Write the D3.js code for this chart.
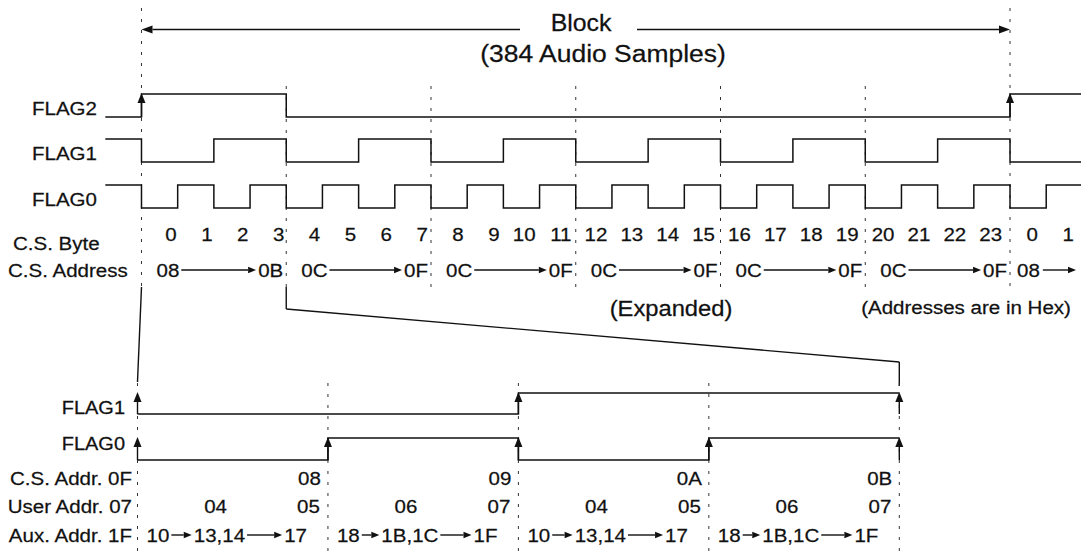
<!DOCTYPE html>
<html>
<head>
<meta charset="utf-8">
<script src="https://cdn.jsdelivr.net/npm/d3@7"></script>
<style>
  html, body { margin: 0; padding: 0; background: #fff; }
  svg { display: block; }
  text { font-family: "Liberation Sans", Arial, Helvetica, sans-serif; fill: #111; stroke: #111; stroke-width: 0.25px; }
</style>
</head>
<body>
<div id="svg-wrapper"></div>
<script>
// ***** DATA *****
// top timeline: one level per byte slot, from byte -1 (previous block) to byte 25
const byteLabels = ["0", "1", "2", "3", "4", "5", "6", "7", "8", "9", "10", "11",
  "12", "13", "14", "15", "16", "17", "18", "19", "20", "21", "22", "23", "0", "1"];
const flag2Levels = [0, 1, 1, 1, 1, 0, 0, 0, 0, 0, 0, 0, 0, 0, 0, 0, 0, 0, 0, 0, 0, 0, 0, 0, 0, 1, 1];
const flag1Levels = [1, 0, 0, 1, 1, 0, 0, 1, 1, 0, 0, 1, 1, 0, 0, 1, 1, 0, 0, 1, 1, 0, 0, 1, 1, 0, 0];
const flag0Levels = [1, 0, 1, 0, 1, 0, 1, 0, 1, 0, 1, 0, 1, 0, 1, 0, 1, 0, 1, 0, 1, 0, 1, 0, 1, 0, 1];

// C.S. address groups (4 bytes each)
const groupBytes = [0, 4, 8, 12, 16, 20, 24];
const csStartAddr = ["08", "0C", "0C", "0C", "0C", "0C", "08"];
const csEndAddr = ["0B", "0F", "0F", "0F", "0F", "0F", null];

// expanded view: bytes 0..3
const expFlag1 = [0, 0, 1, 1];
const expFlag0 = [0, 1, 0, 1];
const expCsAddr = ["08", "09", "0A", "0B"];
const userMid = ["04", "06", "04", "06"];
const userEnd = ["05", "07", "05", "07"];
const auxFirst = ["10", "18", "10", "18"];
const auxMid = ["13,14", "1B,1C", "13,14", "1B,1C"];
const auxLast = ["17", "1F", "17", "1F"];

// ***** SETUP *****
const svgWidth = 1081;
const svgHeight = 553;
const ink = "#111";
const sx = 1.08; // scanned lettering is a bit wider than Helvetica

const svg = d3.select("#svg-wrapper").append("svg")
  .attr("width", svgWidth)
  .attr("height", svgHeight);

svg.append("rect").attr("width", svgWidth).attr("height", svgHeight).attr("fill", "#fff");

// x scales in byte units
const xTop = d3.scaleLinear().domain([-1, 26]).range([105.3, 1082.4]);
const xBot = d3.scaleLinear().domain([0, 4]).range([137.5, 899.3]);

function label(str, x, y, size, anchor) {
  return svg.append("text")
    .attr("transform", `translate(${x},${y}) scale(${sx},1)`)
    .attr("text-anchor", anchor || "start")
    .style("font-size", size + "px")
    .text(str);
}

function textWidth(t) {
  return t.node().getComputedTextLength() * sx;
}

function seg(x1, y1, x2, y2, dashed) {
  svg.append("line")
    .attr("x1", x1).attr("y1", y1).attr("x2", x2).attr("y2", y2)
    .attr("stroke", dashed ? "#333" : ink)
    .attr("stroke-width", dashed ? 1 : 1.4)
    .attr("stroke-dasharray", dashed ? "3,8" : null);
}

// horizontal arrow (head at x2)
function hArrow(x1, x2, y, len, half) {
  len = len || 8;
  half = half || 3.2;
  const dir = x2 > x1 ? 1 : -1;
  seg(x1, y, x2 - dir * len, y);
  svg.append("path")
    .attr("d", `M${x2},${y}L${x2 - dir * len},${y - half}L${x2 - dir * len},${y + half}Z`)
    .attr("fill", ink);
}

// vertical up arrow (tip at yTip)
function upArrow(x, yFrom, yTip) {
  seg(x, yFrom, x, yTip + 9);
  svg.append("path")
    .attr("d", `M${x},${yTip}L${x - 4},${yTip + 10}L${x + 4},${yTip + 10}Z`)
    .attr("fill", ink);
}

// ***** BLOCK HEADER *****
hArrow(520, xTop(0), 29.5, 11, 4);
hArrow(637, xTop(24), 29.5, 11, 4);
label("Block", 581, 31, 23, "middle");
label("(384 Audio Samples)", 603, 62, 24.5, "middle");

// ***** DASHED GRID (top) *****
groupBytes.forEach((b) => {
  const top = b === 0 || b === 24 ? 8 : 86;
  seg(xTop(b), top, xTop(b), 287, true);
});

// ***** TOP WAVEFORMS *****
const topRows = [
  { name: "FLAG2", levels: flag2Levels, hi: 94, lo: 117, arrows: true },
  { name: "FLAG1", levels: flag1Levels, hi: 139, lo: 162, arrows: false },
  { name: "FLAG0", levels: flag0Levels, hi: 185, lo: 208, arrows: false },
];

topRows.forEach((row) => {
  const y = d3.scaleLinear().domain([0, 1]).range([row.lo, row.hi]);
  const pts = row.levels.map((v, i) => ({ b: i - 1, v: v }));
  pts.push({ b: 26, v: row.levels[row.levels.length - 1] });
  const line = d3.line().x((d) => xTop(d.b)).y((d) => y(d.v)).curve(d3.curveStepAfter);
  svg.append("path")
    .attr("d", line(pts))
    .attr("fill", "none")
    .attr("stroke", ink)
    .attr("stroke-width", 1.5);
  // rising edges of FLAG2 get arrows
  if (row.arrows) {
    row.levels.forEach((v, i) => {
      if (i > 0 && v === 1 && row.levels[i - 1] === 0) {
        upArrow(xTop(i - 1), y(0), y(1) - 1);
      }
    });
  }
  label(row.name, 32, row.lo - 2, 19, "start");
});

// ***** C.S. BYTE / ADDRESS ROWS *****
label("C.S. Byte", 13, 250, 19, "start");
label("C.S. Address", 8, 277, 19, "start");

byteLabels.forEach((s, b) => {
  label(s, xTop(b + 1) - 1 - 0.3 * b, 241, 19, "end");
});

groupBytes.forEach((b, i) => {
  const ay = 270;
  if (csEndAddr[i]) {
    const t1 = label(csStartAddr[i], xTop(b) + 15, 277, 19, "start");
    const t2 = label(csEndAddr[i], xTop(b + 4) - 3, 277, 19, "end");
    hArrow(xTop(b) + 15 + textWidth(t1) + 2, xTop(b + 4) - 3 - textWidth(t2) - 2, ay);
  } else {
    const t1 = label(csStartAddr[i], xTop(b) + 7, 277, 19, "start");
    hArrow(xTop(b) + 7 + textWidth(t1) + 3, 1076, ay);
  }
});

// ***** EXPANSION LINES *****
seg(xTop(0), 287, xBot(0), 382);
seg(xTop(4), 287, xTop(4), 309);
seg(xTop(4), 309, xBot(4), 362);
seg(xBot(4), 362, xBot(4), 386);

label("(Expanded)", 671, 316, 22, "middle");
label("(Addresses are in Hex)", 966, 314, 19, "middle");

// ***** DASHED GRID (bottom) *****
[0, 1, 2, 3, 4].forEach((b) => {
  seg(xBot(b), 383, xBot(b), 553, true);
});

// ***** EXPANDED WAVEFORMS *****
const botRows = [
  { name: "FLAG1", levels: expFlag1, hi: 393, lo: 414, labelY: 414 },
  { name: "FLAG0", levels: expFlag0, hi: 438, lo: 460, labelY: 450 },
];

botRows.forEach((row) => {
  const y = d3.scaleLinear().domain([0, 1]).range([row.lo, row.hi]);
  const pts = row.levels.map((v, i) => ({ b: i, v: v }));
  pts.push({ b: 4, v: row.levels[row.levels.length - 1] });
  const line = d3.line().x((d) => xBot(d.b)).y((d) => y(d.v)).curve(d3.curveStepAfter);
  svg.append("path")
    .attr("d", line(pts))
    .attr("fill", "none")
    .attr("stroke", ink)
    .attr("stroke-width", 1.5);
  // arrows at block edges and at every transition
  for (let b = 0; b <= 4; b++) {
    if (b === 0 || b === 4 || row.levels[b] !== row.levels[b - 1]) {
      upArrow(xBot(b), y(0), y(1) - 1);
    }
  }
  label(row.name, 125, row.labelY, 18.5, "end");
});

// ***** EXPANDED ADDRESS ROWS *****
const fs = 19;
label("C.S. Addr. 0F", 132, 485, fs, "end");
label("User Addr. 07", 132, 513, fs, "end");
label("Aux. Addr. 1F", 132, 542, fs, "end");

const w = xBot(1) - xBot(0);
expCsAddr.forEach((s, b) => {
  label(s, xBot(b + 1) - 7, 485, fs, "end");
  label(userMid[b], xBot(b) + 0.41 * w, 513, fs, "middle");
  label(userEnd[b], xBot(b + 1) - 8, 513, fs, "end");

  const ay = 535;
  const x0 = xBot(b) + 9;
  const t1 = label(auxFirst[b], x0, 542, fs, "start");
  const t2 = label(auxMid[b], xBot(b) + 0.43 * w, 542, fs, "middle");
  const x3 = xBot(b) + 0.89 * w;
  const t3 = label(auxLast[b], x3, 542, fs, "end");
  const midW = textWidth(t2);
  const midL = xBot(b) + 0.43 * w - midW / 2;
  hArrow(x0 + textWidth(t1) + 2, midL - 2, ay);
  hArrow(midL + midW + 2, x3 - textWidth(t3) - 2, ay);
});
</script>
</body>
</html>
